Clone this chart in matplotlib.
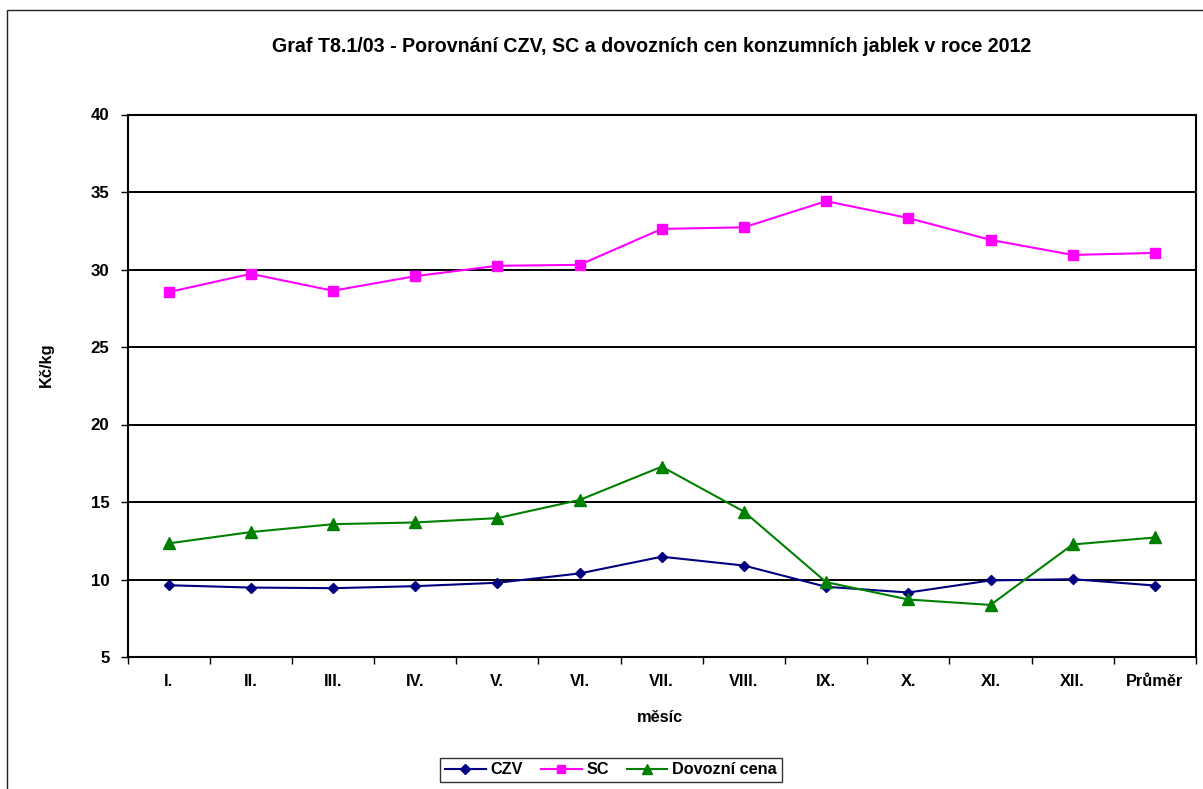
import matplotlib
matplotlib.use("Agg")
import matplotlib.pyplot as plt
from matplotlib.patches import Rectangle
from matplotlib.ticker import FixedLocator, NullFormatter

plt.rcParams['font.family'] = ['Liberation Sans', 'DejaVu Sans']

categories = ["I.", "II.", "III.", "IV.", "V.", "VI.", "VII.", "VIII.", "IX.", "X.", "XI.", "XII.", "Průměr"]
czv = [9.63, 9.48, 9.44, 9.57, 9.79, 10.39, 11.47, 10.90, 9.53, 9.16, 9.94, 10.02, 9.61]
sc = [28.54, 29.72, 28.63, 29.57, 30.24, 30.30, 32.62, 32.72, 34.41, 33.32, 31.91, 30.94, 31.07]
dovoz = [12.33, 13.06, 13.57, 13.68, 13.96, 15.13, 17.28, 14.38, 9.83, 8.71, 8.36, 12.26, 12.71]
yticks = [5, 10, 15, 20, 25, 30, 35, 40]

W, H = 1203, 789
fig = plt.figure(figsize=(W / 100, H / 100), dpi=100)
fig.patch.set_facecolor("white")

# outer chart border
fig.patches.append(Rectangle((7 / W, 1 - 1400 / H), 1400 / W, (1400 - 10) / H,
                             transform=fig.transFigure, fill=False,
                             edgecolor="#222222", linewidth=1.0))

left, right, top, bottom = 127.5, 1196, 114.5, 657
ax = fig.add_axes([left / W, 1 - bottom / H, (right - left) / W, (bottom - top) / H])

x = list(range(len(categories)))
ax.plot(x, czv, color="#000080", marker="D", markersize=5.5, linewidth=1.5, label="CZV")
ax.plot(x, sc, color="#FF00FF", marker="s", markersize=7, linewidth=1.5, label="SC")
ax.plot(x, dovoz, color="#008000", marker="^", markersize=8, linewidth=1.5, label="Dovozní cena")

ax.set_xlim(-0.5, len(categories) - 0.5)
ax.set_ylim(5, 40)
ax.set_yticks(yticks)
for y in yticks[1:-1]:
    ax.axhline(y, color="black", linewidth=1.4, zorder=0)

ax.set_xticks(x)
ax.set_xticklabels(categories, fontsize=11.8, fontweight="bold")
ax.xaxis.set_minor_locator(FixedLocator([i - 0.5 for i in range(len(categories) + 1)]))
ax.xaxis.set_minor_formatter(NullFormatter())
ax.tick_params(axis="x", which="major", length=0, pad=12)
ax.tick_params(axis="x", which="minor", length=5, width=1.0, direction="out")
ax.tick_params(axis="y", length=5, width=1.0, direction="out", pad=8, labelsize=12.2)
for lab in ax.get_yticklabels():
    lab.set_fontweight("bold")

for s in ax.spines.values():
    s.set_linewidth(1.5)
    s.set_color("black")

fig.text(652 / W, 1 - 46 / H, "Graf T8.1/03 - Porovnání CZV, SC a dovozních cen konzumních jablek v roce 2012",
         ha="center", va="center", fontsize=14.1, fontweight="bold")
fig.text(660 / W, 1 - 718 / H, "měsíc", ha="center", va="center", fontsize=11.8, fontweight="bold")
fig.text(46 / W, 1 - 365 / H, "Kč/kg", ha="center", va="center", rotation=90, fontsize=11.8, fontweight="bold")

leg = fig.legend(loc="center", bbox_to_anchor=(611 / W, 1 - 770 / H), ncol=3, frameon=True,
                 fancybox=False, edgecolor="black", prop={"weight": "bold", "size": 11.7},
                 handlelength=2.5, columnspacing=1.1, handletextpad=0.3, borderpad=0.3,
                 markerscale=0.85)
leg.get_frame().set_linewidth(1.0)

fig.savefig("out.png", dpi=100)
